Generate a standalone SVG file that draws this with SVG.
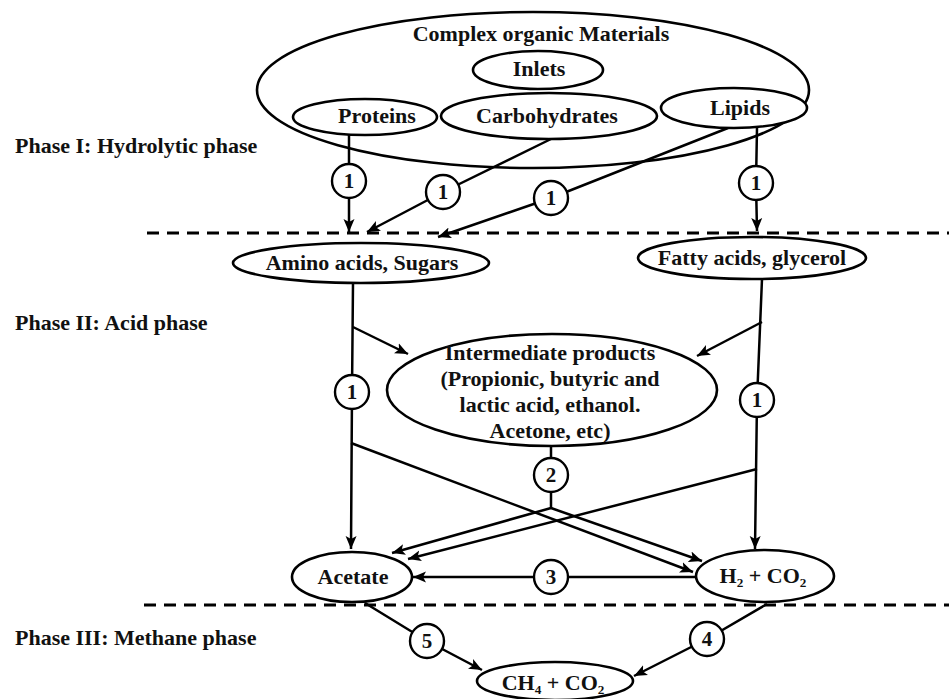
<svg xmlns="http://www.w3.org/2000/svg" width="949" height="699" viewBox="0 0 949 699">
<defs>
<marker id="arr" markerUnits="userSpaceOnUse" markerWidth="14" markerHeight="12" refX="13" refY="6" orient="auto">
<path d="M0,0.5 L13,6 L0,11.5 L3,6 z" fill="#000"/>
</marker>
<style>
text{font-family:"Liberation Serif","Times New Roman",serif;font-weight:bold;font-size:22px;fill:#111;}
.n{text-anchor:middle;}
.e{fill:#fff;stroke:#000;stroke-width:2.6;}
.big{fill:none;stroke:#000;stroke-width:2.6;}
.c{fill:#fff;stroke:#000;stroke-width:2.4;}
.l{fill:none;stroke:#000;stroke-width:2.5;}
.a{fill:none;stroke:#000;stroke-width:2.5;marker-end:url(#arr);}
.d{fill:none;stroke:#000;stroke-width:3;stroke-dasharray:12 8;}
.num{font-size:21px;text-anchor:middle;}
</style>
</defs>
<rect width="949" height="699" fill="#fff"/>

<g id="phases">
<line class="d" x1="147" y1="233" x2="949" y2="233"/>
<line class="d" x1="144" y1="605" x2="949" y2="605"/>
<text x="15" y="153">Phase I: Hydrolytic phase</text>
<text x="15" y="330">Phase II: Acid phase</text>
<text x="15" y="645">Phase III: Methane phase</text>
</g>

<g id="complex">
<ellipse class="big" cx="533" cy="90" rx="276" ry="78"/>
<text class="n" x="541" y="41">Complex organic Materials</text>
</g>

<g id="connectors">
<polyline class="a" points="349,135 349,181 349,232"/>
<polyline class="a" points="551,139 443,192 367,232"/>
<polyline class="a" points="728,128 551,198 438,237"/>
<polyline class="a" points="757,128 756,183 757,231"/>
<polyline class="a" points="353,283 352,392 351,549"/>
<polyline class="a" points="353,327 408,354"/>
<polyline class="a" points="762,279 757,400 755,549"/>
<polyline class="a" points="762,322 697,356"/>
<polyline class="l" points="551,446 551,475 551,508"/>
<polyline class="a" points="551,508 392,553"/>
<polyline class="a" points="551,508 702,561"/>
<polyline class="a" points="351,443 693,572"/>
<polyline class="a" points="757,469 408,559"/>
<polyline class="a" points="696,577 551,577 413,577"/>
<polyline class="a" points="365,603 427,641 482,670"/>
<polyline class="a" points="767,604 707,639 634,676"/>
</g>

<g id="labels">
<circle class="c" cx="349" cy="181" r="17"/><text class="num" x="349" y="188">1</text>
<circle class="c" cx="443" cy="192" r="17"/><text class="num" x="443" y="199">1</text>
<circle class="c" cx="551" cy="198" r="17"/><text class="num" x="551" y="205">1</text>
<circle class="c" cx="756" cy="183" r="17"/><text class="num" x="756" y="190">1</text>
<circle class="c" cx="352" cy="392" r="17"/><text class="num" x="352" y="399">1</text>
<circle class="c" cx="757" cy="400" r="17"/><text class="num" x="757" y="407">1</text>
<circle class="c" cx="551" cy="475" r="17"/><text class="num" x="551" y="482">2</text>
<circle class="c" cx="551" cy="577" r="17"/><text class="num" x="551" y="584">3</text>
<circle class="c" cx="707" cy="639" r="17"/><text class="num" x="707" y="646">4</text>
<circle class="c" cx="427" cy="641" r="17"/><text class="num" x="427" y="648">5</text>
</g>

<g id="inlets">
<ellipse class="e" cx="538" cy="70" rx="65" ry="19"/>
<text class="n" x="539" y="76">Inlets</text>
</g>
<g id="proteins">
<ellipse class="e" cx="365" cy="117" rx="72" ry="18"/>
<text class="n" x="377" y="123">Proteins</text>
</g>
<g id="carbohydrates">
<ellipse class="e" cx="549" cy="116" rx="108" ry="23"/>
<text class="n" x="547" y="123">Carbohydrates</text>
</g>
<g id="lipids">
<ellipse class="e" cx="734" cy="108" rx="73" ry="20"/>
<text class="n" x="740" y="115">Lipids</text>
</g>
<g id="amino">
<ellipse class="e" cx="361" cy="263" rx="128" ry="20"/>
<text class="n" x="362" y="270">Amino acids, Sugars</text>
</g>
<g id="fatty">
<ellipse class="e" cx="752" cy="258" rx="114" ry="21"/>
<text class="n" x="752" y="265">Fatty acids, glycerol</text>
</g>
<g id="intermediate">
<ellipse class="e" cx="552" cy="390" rx="165" ry="56"/>
<text class="n" x="550" y="360">Intermediate products</text>
<text class="n" x="550" y="386">(Propionic, butyric and</text>
<text class="n" x="550" y="412">lactic acid, ethanol.</text>
<text class="n" x="550" y="438">Acetone, etc)</text>
</g>
<g id="acetate">
<ellipse class="e" cx="352" cy="577" rx="60" ry="25"/>
<text class="n" x="353" y="584">Acetate</text>
</g>
<g id="h2co2">
<ellipse class="e" cx="765" cy="576" rx="69" ry="26"/>
<text class="n" x="763" y="583">H₂ + CO₂</text>
</g>
<g id="ch4co2">
<ellipse class="e" cx="555" cy="681" rx="78" ry="19"/>
<text class="n" x="553" y="690">CH₄ + CO₂</text>
</g>
</svg>
